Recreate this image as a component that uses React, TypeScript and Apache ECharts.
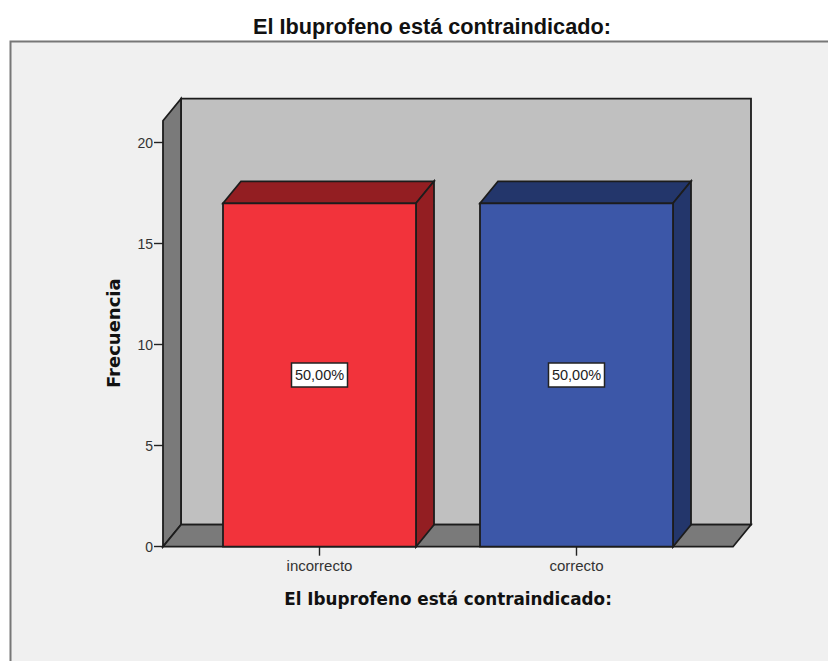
import React, { useEffect, useRef } from "react";
import * as echarts from "echarts";

const chartTitle = "El Ibuprofeno está contraindicado:";
const xAxisTitle = "El Ibuprofeno está contraindicado:";
const yAxisTitle = "Frecuencia";
const categories = ["incorrecto", "correcto"];
const frequencies = [17, 17];
const percentLabels = ["50,00%", "50,00%"];
const yTicks = { min: 0, max: 20, interval: 5 };

const frontColors = ["#f2333b", "#3c57a8"];
const sideColors = ["#931e22", "#23366b"];
const LINE = "#1c1c1c";
const DX = 18;
const DY = 22;
const PAD = 28;
const BAR_RATIO = 0.751;

function renderFrame(params: any) {
  const c = params.coordSys;
  const l = c.x - PAD;
  const r = c.x + c.width + PAD;
  const b = c.y + c.height;
  const t = c.y - 22;
  const style = (fill: string) => ({ fill, stroke: LINE, lineWidth: 1.8 });
  return {
    type: "group",
    children: [
      { type: "polygon", shape: { points: [[l + DX, t - DY], [r + DX, t - DY], [r + DX, b - DY], [l + DX, b - DY]] }, style: style("#c0c0c0") },
      { type: "polygon", shape: { points: [[l, t], [l + DX, t - DY], [l + DX, b - DY], [l, b]] }, style: style("#7a7a7a") },
      { type: "polygon", shape: { points: [[l, b], [r, b], [r + DX, b - DY], [l + DX, b - DY]] }, style: style("#7a7a7a") },
    ],
  };
}

function renderBar(params: any, api: any) {
  const i = params.dataIndex;
  const top = api.coord([api.value(0), api.value(1)]);
  const base = api.coord([api.value(0), 0]);
  const w = api.size([1, 0])[0] * BAR_RATIO;
  const x0 = top[0] - w / 2;
  const x1 = top[0] + w / 2;
  const y0 = top[1];
  const y1 = base[1];
  const midY = api.coord([api.value(0), api.value(1) / 2])[1];
  const stroke = { stroke: LINE, lineWidth: 1.8 };
  return {
    type: "group",
    children: [
      { type: "polygon", shape: { points: [[x0, y0], [x1, y0], [x1 + DX, y0 - DY], [x0 + DX, y0 - DY]] }, style: { fill: sideColors[i], ...stroke } },
      { type: "polygon", shape: { points: [[x1, y0], [x1 + DX, y0 - DY], [x1 + DX, y1 - DY], [x1, y1]] }, style: { fill: sideColors[i], ...stroke } },
      { type: "rect", shape: { x: x0, y: y0, width: w, height: y1 - y0 }, style: { fill: frontColors[i], ...stroke } },
      { type: "rect", shape: { x: top[0] - 28, y: midY - 12, width: 56, height: 24 }, style: { fill: "#ffffff", stroke: "#222222", lineWidth: 1.5 } },
      {
        type: "text",
        x: top[0],
        y: midY,
        style: {
          text: percentLabels[i],
          fill: "#222222",
          font: "14.5px 'Liberation Sans'",
          align: "center",
          verticalAlign: "middle",
        },
      },
    ],
  };
}

export default function App() {
  const ref = useRef<HTMLDivElement>(null);
  useEffect(() => {
    const chart = echarts.init(ref.current!, undefined, { renderer: "svg" });
    chart.setOption({
      animation: false,
      backgroundColor: "#ffffff",
      title: {
        text: chartTitle,
        left: 427,
        top: 10,
        textAlign: "center",
        textStyle: { fontFamily: "Liberation Sans", fontSize: 21.7, fontWeight: "bold", color: "#111111" },
      },
      graphic: [
        {
          type: "rect",
          z: -10,
          shape: { x: 10.5, y: 41.5, width: 840, height: 660 },
          style: { fill: "#f0f0f0", stroke: "#777777", lineWidth: 2 },
        },
      ],
      grid: { left: 191, right: 123, top: 142.7, bottom: 114.3 },
      xAxis: {
        type: "category",
        data: categories,
        name: xAxisTitle,
        nameLocation: "middle",
        nameGap: 44,
        nameTextStyle: { fontFamily: "DejaVu Sans", fontSize: 16.8, fontWeight: "bold", color: "#111111" },
        axisLine: { show: false },
        axisTick: { show: true, alignWithLabel: true, length: 9, lineStyle: { color: "#222222", width: 1.4 } },
        axisLabel: { fontFamily: "Liberation Sans", fontSize: 15, color: "#333333", margin: 11 },
      },
      yAxis: {
        type: "value",
        min: yTicks.min,
        max: yTicks.max,
        interval: yTicks.interval,
        offset: PAD,
        name: yAxisTitle,
        nameLocation: "middle",
        nameGap: 41,
        nameTextStyle: { fontFamily: "DejaVu Sans", fontSize: 18, fontWeight: "bold", color: "#111111", padding: [0, 0, 0, 23] },
        splitLine: { show: false },
        axisLine: { show: false },
        axisTick: { show: true, length: 9, lineStyle: { color: "#222222", width: 1.4 } },
        axisLabel: { fontFamily: "Liberation Sans", fontSize: 14, color: "#333333", margin: 10, padding: [3, 0, 0, 0] },
      },
      series: [
        {
          type: "custom",
          silent: true,
          z: 1,
          renderItem: renderFrame,
          data: [[0, 0]],
          encode: { x: 0, y: 1 },
        },
        {
          type: "custom",
          silent: true,
          z: 2,
          renderItem: renderBar,
          data: categories.map((c, i) => [i, frequencies[i]]),
          encode: { x: 0, y: 1 },
        },
      ],
    });
    return () => chart.dispose();
  }, []);
  return <div ref={ref} style={{ position: "fixed", left: 0, top: 0, width: 828, height: 661 }} />;
}
